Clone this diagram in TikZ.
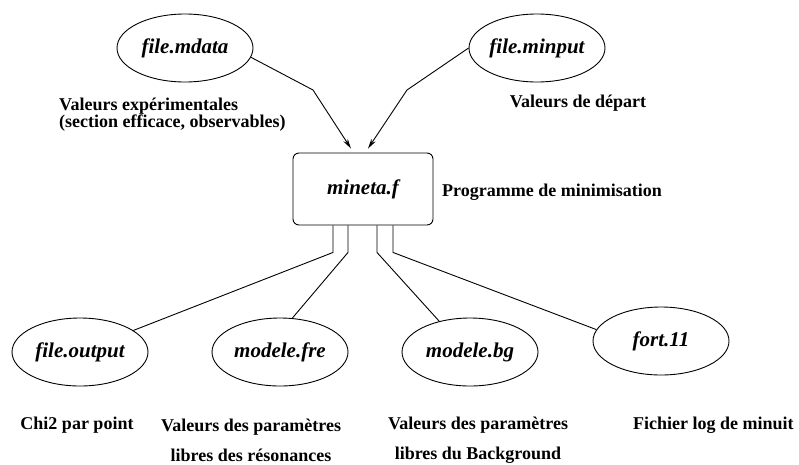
\documentclass[tikz,border=0pt]{standalone}
\usepackage{fontspec}
\setmainfont{Liberation Serif}
\usepackage{tikz}
\usetikzlibrary{shapes.geometric,arrows.meta}

\begin{document}
\begin{tikzpicture}[x=1pt,y=-1pt,
  fichier/.style={draw,ellipse,line width=0.9pt,minimum width=136pt,minimum height=68pt,inner sep=0pt,font=\fontsize{21}{24}\selectfont\bfseries\itshape},
  prog/.style={draw,rounded corners=6pt,line width=0.9pt,minimum width=140pt,minimum height=72pt,font=\fontsize{21}{24}\selectfont\bfseries\itshape},
  legende/.style={font=\fontsize{18}{17}\selectfont\bfseries,inner sep=0pt},
  lien/.style={line width=0.9pt},
  fleche/.style={line width=0.9pt,-{Stealth[length=10pt,width=5pt]}}]
\useasboundingbox (0,0) rectangle (799,464);

% Fichiers d'entree
\node[fichier] (mdata) at (185,48) {file.mdata};
\node[fichier] (minput) at (537,48) {file.minput};
\node[legende,align=left,anchor=west] (lexp) at (59,115) {Valeurs expérimentales\\(section efficace, observables)};
\node[legende] (ldep) at (578,103) {Valeurs de départ};

% Programme
\node[prog] (mineta) at (363,189) {mineta.f};
\node[legende,anchor=west] (lprog) at (442,192) {Programme de minimisation};

\coordinate (cmd) at (313,90);
\coordinate (cmi) at (407,90);
\draw[fleche] (mdata.-8) -- (cmd) -- ([xshift=-12pt,yshift=4pt]mineta.north);
\draw[fleche] (minput.west) -- (cmi) -- ([xshift=5pt,yshift=4pt]mineta.north);

% Fichiers de sortie
\node[fichier] (output) at (80,352) {file.output};
\node[fichier] (fre) at (280,352) {modele.fre};
\node[fichier] (bg) at (470,352) {modele.bg};
\node[fichier] (fort) at (661,341) {fort.11};

\draw[lien] ([xshift=-30pt]mineta.south) -- ++(0,27) -- (output.22);
\draw[lien] ([xshift=-15pt]mineta.south) -- ++(0,27) -- (fre.70);
\draw[lien] ([xshift=14pt]mineta.south) -- ++(0,27) -- (bg.135);
\draw[lien] ([xshift=30pt]mineta.south) -- ++(0,27) -- (fort.170);

% Legendes
\node[legende] (lchi) at (77,425) {Chi2 par point};
\node[legende,align=center] (lfre) at (251,440) {Valeurs des paramètres\\[13pt]libres des résonances};
\node[legende,align=center] (lbg) at (478,440) {Valeurs des paramètres\\[13pt]libres du Background};
\node[legende,anchor=west] (lfort) at (633,425) {Fichier log de minuit};
\end{tikzpicture}
\end{document}
